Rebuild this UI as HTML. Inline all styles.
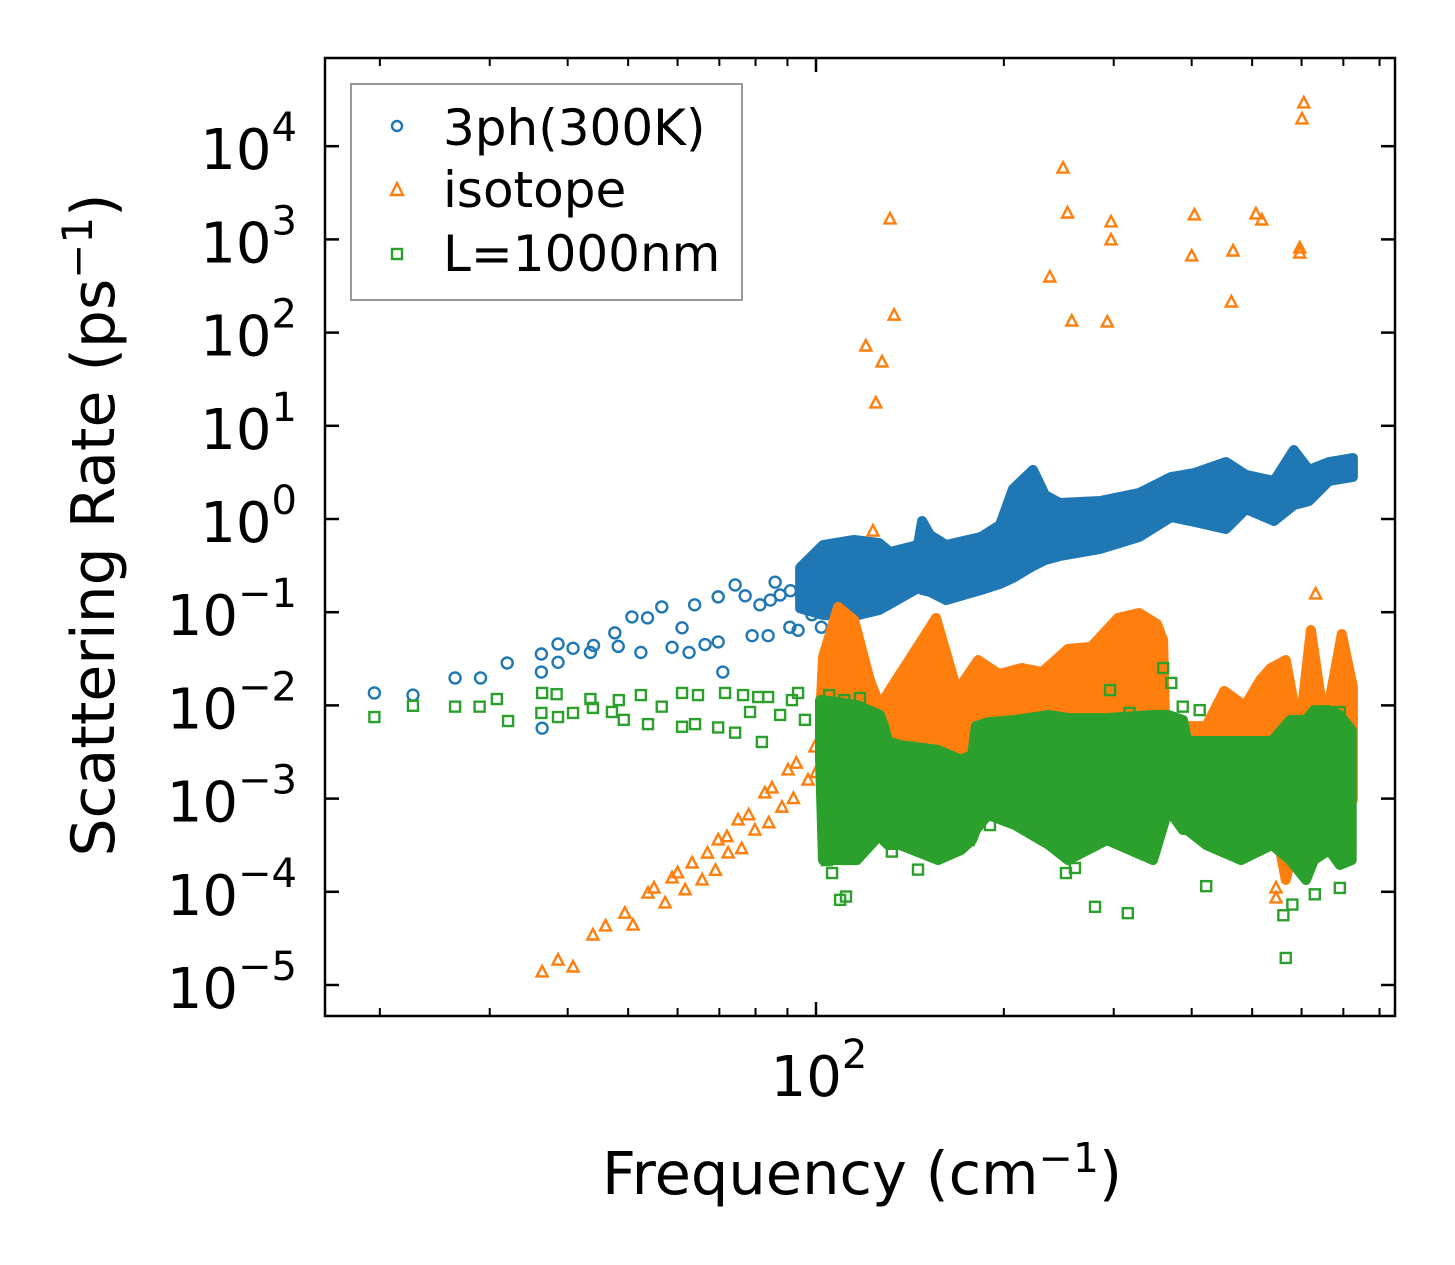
<!DOCTYPE html>
<html><head><meta charset="utf-8"><style>
html,body{margin:0;padding:0;background:#fff;}
svg{display:block;font-family:"DejaVu Sans","Liberation Sans",sans-serif;}
</style></head><body>
<svg id="chart" width="1455" height="1265" viewBox="0 0 1455 1265" xmlns="http://www.w3.org/2000/svg">
<rect width="1455" height="1265" fill="#fff"/>
<g id="marks"></g>
<g id="axes"></g>
<g>
  <rect x="351" y="84" width="391" height="216" fill="#fff" stroke="#999" stroke-width="2"/>
  <g>
    <circle cx="397" cy="126" r="5" fill="none" stroke="#1f77b4" stroke-width="2.4"/>
    <text x="443" y="145" font-size="50">3ph(300K)</text>
  </g>
  <g>
    <path d="M397,183 L403,195 L391,195 Z" fill="none" stroke="#ff7f0e" stroke-width="2.4"/>
    <text x="443" y="207" font-size="50">isotope</text>
  </g>
  <g>
    <rect x="392" y="249" width="10" height="10" fill="none" stroke="#2ca02c" stroke-width="2.4"/>
    <text x="443" y="271" font-size="50">L=1000nm</text>
  </g>
</g>
<text x="862" y="1194" font-size="59" text-anchor="middle">Frequency (cm<tspan font-size="41" dy="-22">−1</tspan><tspan dy="22">)</tspan></text>
<text transform="translate(114,525) rotate(-90)" font-size="60" text-anchor="middle">Scattering Rate (ps<tspan font-size="42" dy="-22">−1</tspan><tspan dy="22">)</tspan></text>
</svg>
<script>
// ---- data ----
const blueFreq = [19.6,22.6,26.4,29,32,36.3,36.3,38.6,38.6,40.8,36.4,44,43.5,47.6,48.2,50.7,52.4,53.7,56.6,58.8,61,62.6,63.9,66.4,69.7,70.9,69.7,74.2,79,83.8,90.8,93.6,102,257,124.7,87.6,84.5,91,96,81.3,98.5,77,86];
const blueRate = [0.0136,0.0129,0.0197,0.0197,0.0285,0.0356,0.0228,0.0456,0.029,0.041,0.0057,0.044,0.037,0.06,0.043,0.089,0.037,0.087,0.114,0.042,0.068,0.037,0.12,0.045,0.048,0.0228,0.146,0.196,0.056,0.056,0.069,0.064,0.069,0.526,0.169,0.153,0.135,0.17,0.128,0.12,0.094,0.15,0.21];
const blueBandFreq = [94.3,102.6,115.1,126.2,131.4,145.7,147.9,152.3,161.6,183.8,197.2,206.9,222.7,232.8,246,285.2,329.4,370.7,404.9,454,488.8,542,583,616.6,664,725];
const blueBandTop = [0.3,0.526,0.596,0.553,0.443,0.526,0.952,0.673,0.526,0.641,0.862,2.10,3.36,1.81,1.485,1.56,1.90,2.82,3.12,4.09,2.97,2.56,5.50,3.36,4.09,4.51];
const blueBandLow = [0.11,0.0933,0.091,0.1056,0.1225,0.182,0.173,0.165,0.135,0.173,0.201,0.233,0.313,0.363,0.401,0.476,0.641,1.05,0.929,0.781,1.28,0.952,1.41,1.56,2.56,2.82];

const orangeFreq = [36.4,38.6,43.9,49.4,53.8,58.8,63.3,69.7,75,82.8,90.2,99.6,40.8,50.9,57.3,61.7,65.7,72.3,79.8,88.2,97.1,104.5,
  46,55,60,67,72,78,85,93,69,76,84,92,100,
  605,601,248.8,253,297,297,131.4,404,507,518,400,466,596,596,463,237,257,293,133.4,120.2,127.6,124.7,123.4,632,710,710,546,546,596];
const orangeRate = [1.38e-5,1.85e-5,3.44e-5,5.9e-5,9.7e-5,1.41e-4,2.04e-4,3.6e-4,5.9e-4,1.15e-3,2.03e-3,3.58e-3,1.56e-5,4.4e-5,7.6e-5,1.05e-4,1.34e-4,2.61e-4,4.6e-4,8.1e-4,1.58e-3,2.6e-3,
  4.3e-5,1.1e-4,1.6e-4,2.6e-4,3.9e-4,6.7e-4,1.3e-3,2.4e-3,1.7e-4,2.9e-4,5.5e-4,1e-3,1.9e-3,
  29100,19600,5830,1920,1540,986,1656,1828,1875,1615,664,751,809,714,213,395,133,130,154,71.8,48.4,17.6,0.743,0.157,0.0146,4.26e-3,8.6e-5,1.1e-4,2.2e-4];
const orangeBandFreq = [101.5,102.6,108.5,115.1,122,126.6,134.4,142,155.7,168.3,181.9,196.5,213.8,230.3,253.3,276,304.6,329.4,352,360,362.8,422,451,487,514.8,535,566,595,621,654,696,725];
const orangeBandTop = [6.97e-3,0.033,0.114,0.0824,0.0187,9.9e-3,0.0187,0.033,0.0867,0.0143,0.0307,0.0217,0.0252,0.0228,0.0403,0.0424,0.0867,0.098,0.0747,0.0503,6e-3,6e-3,0.0143,9.9e-3,0.0187,0.025,0.0307,5.06e-3,0.0644,6e-3,0.0583,0.0157];
const orangeBandLow = [3e-3,1.24e-3,1.24e-3,1.24e-3,1.24e-3,1.24e-3,1.24e-3,1.24e-3,1.24e-3,1.24e-3,1.24e-3,1.24e-3,1.24e-3,1.24e-3,1.24e-3,1.24e-3,1.24e-3,1.24e-3,1.24e-3,1.24e-3,1.24e-3,1.24e-3,1.24e-3,1.24e-3,1.24e-3,9.7e-4,1.34e-4,5.9e-4,2.2e-4,5.9e-4,5.9e-4,9.7e-4];

const greenFreq = [19.6,22.6,26.4,28.9,30.8,32.1,36.4,36.3,38.4,38.6,40.8,43.5,43.9,48.3,47.1,52.4,49.2,53.8,56.6,61,61,64.7,64,71.5,69.7,76.4,80.8,83.8,74.2,81.9,93.6,91.5,87.6,96,78.4,
  104.1,106.1,109.3,111.7,132.3,145.7,175.8,190,251.5,260,280,316,422,566,561,580,630,691,700,360,371,296,318,412,387,105,111,117.6,691,710];
const greenRate = [7.5e-3,9.9e-3,9.7e-3,9.7e-3,0.0117,6.8e-3,0.0136,8.3e-3,0.0132,7.5e-3,8.3e-3,0.0117,9.4e-3,0.0114,8.5e-3,0.0129,7e-3,6.3e-3,9.7e-3,0.0136,5.9e-3,0.0129,6.3e-3,0.0136,5.8e-3,0.0129,0.0123,0.0123,5.1e-3,4.05e-3,0.0136,0.0114,7.9e-3,7e-3,8.5e-3,
  2.19e-4,1.59e-4,8.2e-5,8.9e-5,2.7e-4,1.73e-4,3.6e-4,5.2e-4,1.59e-4,1.8e-4,6.9e-5,5.9e-5,1.15e-4,1.95e-5,5.6e-5,7.3e-5,9.4e-5,1.1e-4,2.3e-4,0.0252,0.0174,0.0146,8.3e-3,8.9e-3,9.7e-3,0.0129,0.0114,0.012,8.5e-3,5.4e-3];
const greenBandFreq = [101.5,102.6,116.3,126.6,128.5,130.4,136.3,156.9,170.8,177.9,180.4,188.7,208.4,236.2,253.4,292.7,346.8,366.6,387.4,393.3,422,479.9,538,575,610,628,664,691,722];
const greenBandTop = [0.0114,0.0114,0.0101,7.9e-3,6e-3,4.15e-3,3.76e-3,3.32e-3,2.6e-3,2.94e-3,6e-3,6.6e-3,6.97e-3,7.9e-3,7.3e-3,7.3e-3,7.9e-3,7.9e-3,6.97e-3,4.15e-3,4.15e-3,4.15e-3,4.15e-3,6.97e-3,6.97e-3,8.9e-3,8.9e-3,7.9e-3,5.4e-3];
const greenBandLow = [2.6e-3,2.19e-4,2.19e-4,4.07e-4,3.5e-4,3.18e-4,3.18e-4,2.19e-4,2.8e-4,3.6e-4,4.6e-4,6.7e-4,5.2e-4,3.18e-4,2.19e-4,3.6e-4,2.19e-4,7.6e-4,4.6e-4,4.6e-4,3.18e-4,2.19e-4,3.18e-4,2.19e-4,1.34e-4,2.19e-4,2.8e-4,1.94e-4,2.19e-4];

const yTickExp = [-5,-4,-3,-2,-1,0,1,2,3,4];
const xMajorTicks = [100];
const xMinorTicks = [20,30,40,50,60,70,80,90,200,300,400,500,600,700,800];

// ---- scales ----
const PL=325, PR=1395, PT=58, PB=1016;
function xs(f){ return 816 + 624*Math.log10(f/100); }
function ys(v){ return 519 - 93.2*Math.log10(v); }
const NS="http://www.w3.org/2000/svg";
const marks=document.getElementById('marks');
const axes=document.getElementById('axes');
function mk(tag, attrs, parent){ const e=document.createElementNS(NS,tag); for(const k in attrs) e.setAttribute(k,attrs[k]); parent.appendChild(e); return e; }

const clip=mk('clipPath',{id:'plotclip'},marks);
mk('rect',{x:PL,y:PT,width:PR-PL,height:PB-PT},clip);
const plot=mk('g',{'clip-path':'url(#plotclip)'},marks);

function band(freq, top, low, color, name){
  let pts=[];
  for(let i=0;i<freq.length;i++) pts.push(xs(freq[i]).toFixed(1)+','+ys(top[i]).toFixed(1));
  for(let i=freq.length-1;i>=0;i--) pts.push(xs(freq[i]).toFixed(1)+','+ys(low[i]).toFixed(1));
  const p=mk('polygon',{points:pts.join(' '),fill:color,stroke:color,'stroke-width':10,'stroke-linejoin':'round'},plot);
  
  
}
function circles(freq, rate, name){
  const g=mk('g',{fill:'none',stroke:'#1f77b4','stroke-width':2.4},plot);
  
  
  for(let i=0;i<freq.length;i++) mk('circle',{cx:xs(freq[i]),cy:ys(rate[i]),r:5.5},g);
}
function triangles(freq, rate, name){
  const g=mk('g',{fill:'none',stroke:'#ff7f0e','stroke-width':2.4},plot);
  
  
  for(let i=0;i<freq.length;i++){ const x=xs(freq[i]), y=ys(rate[i]);
    mk('path',{d:`M${x},${y-6} L${x+5.5},${y+4.5} L${x-5.5},${y+4.5} Z`},g); }
}
function squares(freq, rate, name){
  const g=mk('g',{fill:'none',stroke:'#2ca02c','stroke-width':2.4},plot);
  
  
  for(let i=0;i<freq.length;i++) mk('rect',{x:xs(freq[i])-5,y:ys(rate[i])-5,width:10,height:10},g);
}
band(blueBandFreq, blueBandTop, blueBandLow, '#1f77b4', 'series-3ph-dense');
circles(blueFreq, blueRate, 'series-3ph-points');
band(orangeBandFreq, orangeBandTop, orangeBandLow, '#ff7f0e', 'series-isotope-dense');
triangles(orangeFreq, orangeRate, 'series-isotope-points');
band(greenBandFreq, greenBandTop, greenBandLow, '#2ca02c', 'series-l1000nm-dense');
squares(greenFreq, greenRate, 'series-l1000nm-points');

// ---- axes ----
const frame=mk('rect',{x:PL,y:PT,width:PR-PL,height:PB-PT,fill:'none',stroke:'#000','stroke-width':2.5},axes);


yTickExp.forEach(e=>{
  const y=ys(Math.pow(10,e));
  mk('line',{x1:PL,x2:PL+14,y1:y,y2:y,stroke:'#000','stroke-width':2.5},axes);
  mk('line',{x1:PR,x2:PR-14,y1:y,y2:y,stroke:'#000','stroke-width':2.5},axes);
  const t=mk('text',{x:297,y:y+23,'font-size':56,'text-anchor':'end'},axes);
  
  
  const a=document.createElementNS(NS,'tspan'); a.textContent='10'; t.appendChild(a);
  const b=document.createElementNS(NS,'tspan'); b.setAttribute('font-size','40'); b.setAttribute('dy','-28'); b.textContent=(e<0?'−'+(-e):String(e)); t.appendChild(b);
});
xMajorTicks.forEach(f=>{
  const x=xs(f);
  mk('line',{x1:x,x2:x,y1:PB,y2:PB-14,stroke:'#000','stroke-width':2.5},axes);
  mk('line',{x1:x,x2:x,y1:PT,y2:PT+14,stroke:'#000','stroke-width':2.5},axes);
  const t=mk('text',{x:x+3,y:PB+80,'font-size':56,'text-anchor':'middle'},axes);
  
  
  const a=document.createElementNS(NS,'tspan'); a.textContent='10'; t.appendChild(a);
  const b=document.createElementNS(NS,'tspan'); b.setAttribute('font-size','40'); b.setAttribute('dy','-28'); b.textContent='2'; t.appendChild(b);
});
xMinorTicks.forEach(f=>{
  const x=xs(f); if(x<PL||x>PR) return;
  mk('line',{x1:x,x2:x,y1:PB,y2:PB-8,stroke:'#000','stroke-width':2},axes);
  mk('line',{x1:x,x2:x,y1:PT,y2:PT+8,stroke:'#000','stroke-width':2},axes);
});
</script>
</body></html>
